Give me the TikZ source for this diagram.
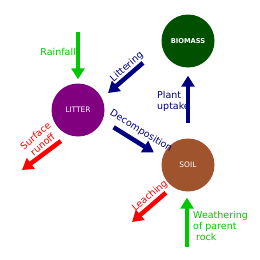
\documentclass[tikz,border=0pt]{standalone}
\usepackage{fontspec}
\setmainfont{DejaVu Sans}
\usetikzlibrary{arrows.meta}
\definecolor{mautim}{RGB}{128,0,128}
\definecolor{mauxanhdam}{RGB}{0,80,0}
\definecolor{maunau}{RGB}{160,84,45}
\definecolor{mauxanhla}{RGB}{0,200,0}
\definecolor{mauxanhnavy}{RGB}{0,0,128}
\definecolor{maudo}{RGB}{255,0,0}
\begin{document}
\begin{tikzpicture}[x=1pt, y=-1pt, line join=round,
	hinhtron/.style={circle, minimum size=53pt, inner sep=0pt, text=white, font=\fontsize{7.5}{9}\selectfont},
	muiten/.style={line width=4.5pt, -{Triangle[width=13pt,length=11pt]}},
	nhan/.style={font=\fontsize{9.5}{11}\selectfont, inner sep=0pt}]
	\useasboundingbox (0,0) rectangle (260,260);
	% Vẽ các hình tròn
	\node[hinhtron, fill=mautim] (litter) at (78,110) {LITTER};
	\node[hinhtron, fill=mauxanhdam, font=\fontsize{6.7}{8}\selectfont\bfseries] (biomass) at (188,41) {BIOMASS};
	\node[hinhtron, fill=maunau] (soil) at (188,165) {SOIL};
	% Các điểm mút tự do
	\coordinate (rain) at (78,32);
	\coordinate (runoff) at (22,170);
	\coordinate (leach) at (132,222);
	\coordinate (rock) at (187,247);
	% Vẽ các mũi tên
	\draw[muiten, mauxanhla, shorten >=4pt] (rain) -- (litter);
	\draw[muiten, mauxanhnavy, shorten <=25pt, shorten >=8pt] (biomass.192) -- (litter.26);
	\draw[muiten, mauxanhnavy, shorten <=13pt, shorten >=10pt] (litter.-23) -- (soil.164);
	\draw[muiten, mauxanhnavy, shorten <=15pt, shorten >=8pt] (soil) -- (biomass);
	\draw[muiten, maudo, shorten <=10pt] (litter.250) -- (runoff);
	\draw[muiten, maudo, shorten <=9pt] (soil.235) -- (leach);
	\draw[muiten, mauxanhla, shorten >=6pt] (rock) -- (soil.south -| rock);
	% Kí hiệu các dòng
	\node[nhan, mauxanhla, anchor=east] (rainfall) at (76,52) {Rainfall};
	\node[nhan, mauxanhnavy, rotate=41] (littering) at (127,67) {Littering};
	\node[nhan, mauxanhnavy, rotate=-32] (decomp) at (141,131) {Decomposition};
	\node[nhan, mauxanhnavy, anchor=north west, align=left] (uptake) at (157,91) {Plant\\uptake};
	\node[nhan, maudo, rotate=40, align=center] (surface) at (39,140) {Surface\\runoff};
	\node[nhan, maudo, rotate=40] (leaching) at (150,196) {Leaching};
	\node[nhan, mauxanhla, anchor=north west, align=left] (weather) at (193,211) {Weathering\\of parent\\\hspace{0.3em}rock};
\end{tikzpicture}
\end{document}
